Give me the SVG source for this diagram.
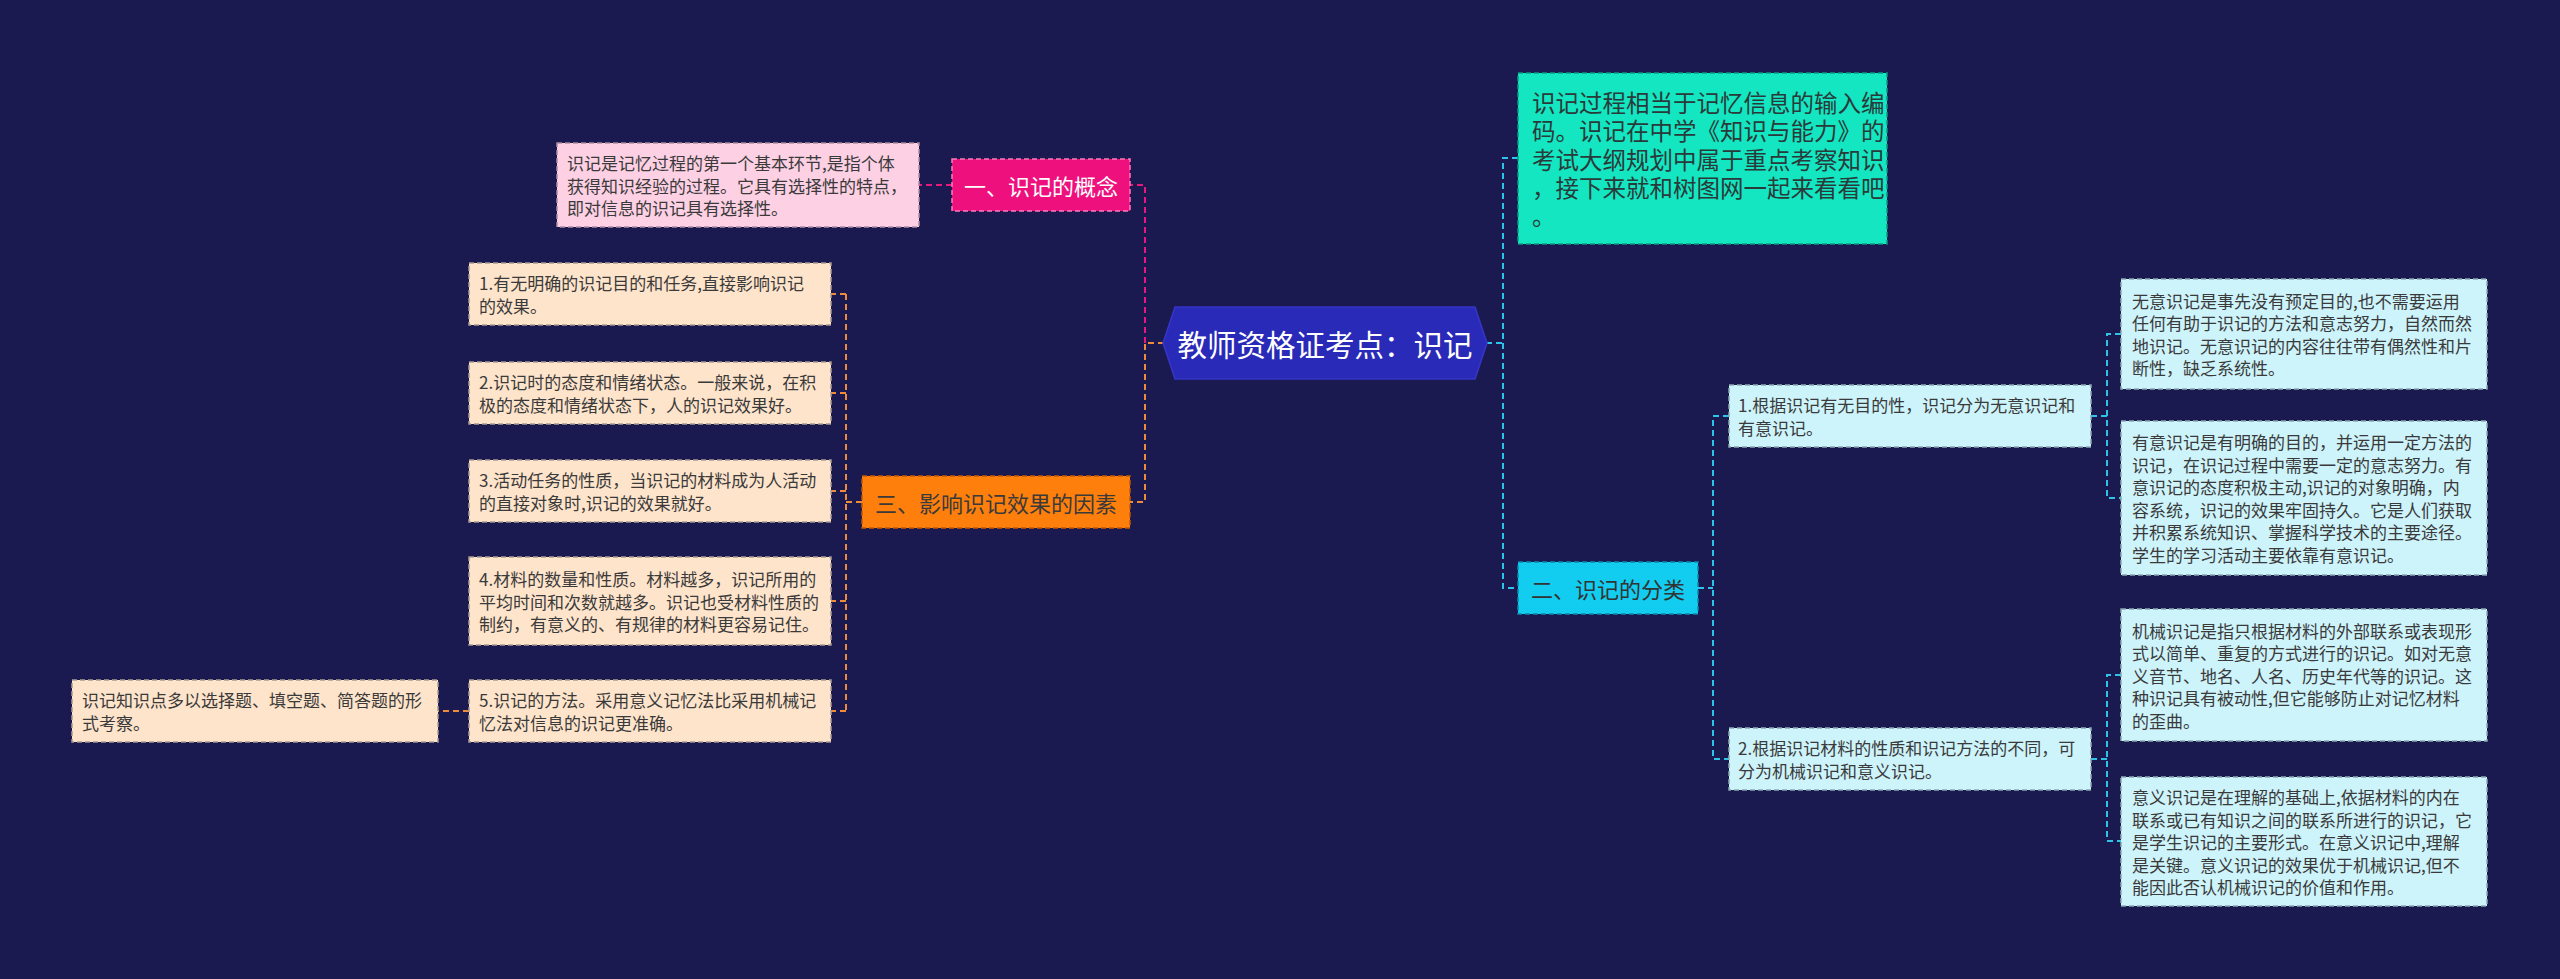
<svg xmlns="http://www.w3.org/2000/svg" width="2560" height="979" viewBox="0 0 2560 979">
<style>
text{font-family:"Noto Sans CJK SC","Noto Sans",sans-serif;dominant-baseline:central}
.leaf{font-size:17px;fill:#3a3a3a}
.main{font-size:22px;text-anchor:middle}
.con path{fill:none;stroke-width:2;stroke-dasharray:6 4}
.m{stroke:#e8197e}.o{stroke:#ee8a3c}.c{stroke:#2ec4ea}
.bd{stroke-width:1.5;stroke-dasharray:5 3}
</style>
<rect width="2560" height="979" fill="#1b1a50"/>
<g class="con">
<path class="m" d="M1145,343 V185 H1130"/>
<path class="m" d="M952,185 H919"/>
<path class="o" d="M1164,343 H1145 V502 H1130"/>
<path class="o" d="M862,502 H846"/>
<path class="o" d="M846,294 V711"/>
<path class="o" d="M846,294 H831 M846,393 H831 M846,491 H831 M846,601 H831 M846,711 H831"/>
<path class="o" d="M469,711 H438"/>
<path class="c" d="M1486,343 H1503"/>
<path class="c" d="M1518,158 H1503 V588 H1518"/>
<path class="c" d="M1698,588 H1713"/>
<path class="c" d="M1729,416 H1713 V759 H1729"/>
<path class="c" d="M2091,416 H2107"/>
<path class="c" d="M2121,334 H2107 V498 H2121"/>
<path class="c" d="M2091,759 H2107"/>
<path class="c" d="M2121,675 H2107 V841 H2121"/>
</g>
<g id="root">
<polygon points="1163,343 1175,307 1475,307 1487,343 1475,379 1175,379" fill="#2a2ab8" stroke="#3535c8" stroke-width="1.5"/>
<text x="1325" y="343" text-anchor="middle" font-size="29.5" fill="#ffffff">教师资格证考点：识记</text>
</g>
<g id="n1">
<rect x="952" y="159" width="178" height="52" fill="#ee117d" stroke="#ff7ab8" class="bd"/>
<text class="main" x="1041" y="185" fill="#ffffff">一、识记的概念</text>
</g>
<g id="n1a">
<rect x="557" y="143" width="362" height="84" fill="#fdd0e4" stroke="#b08aa0" class="bd"/>
<text class="leaf" x="567" y="162.5">识记是记忆过程的第一个基本环节,是指个体</text>
<text class="leaf" x="567" y="185">获得知识经验的过程。它具有选择性的特点，</text>
<text class="leaf" x="567" y="207.5">即对信息的识记具有选择性。</text>
</g>
<g id="n3">
<rect x="862" y="476" width="268" height="52" fill="#fe7f0c" stroke="#c05a00" class="bd"/>
<text class="main" x="996" y="502" fill="#3a3a3a">三、影响识记效果的因素</text>
</g>
<g id="n3a">
<rect x="469" y="263" width="362" height="62" fill="#fee4cb" stroke="#a89a90" class="bd"/>
<text class="leaf" x="479" y="282.75">1.有无明确的识记目的和任务,直接影响识记</text>
<text class="leaf" x="479" y="305.25">的效果。</text>
</g>
<g id="n3b">
<rect x="469" y="362" width="362" height="62" fill="#fee4cb" stroke="#a89a90" class="bd"/>
<text class="leaf" x="479" y="381.75">2.识记时的态度和情绪状态。一般来说，在积</text>
<text class="leaf" x="479" y="404.25">极的态度和情绪状态下，人的识记效果好。</text>
</g>
<g id="n3c">
<rect x="469" y="460" width="362" height="62" fill="#fee4cb" stroke="#a89a90" class="bd"/>
<text class="leaf" x="479" y="479.75">3.活动任务的性质，当识记的材料成为人活动</text>
<text class="leaf" x="479" y="502.25">的直接对象时,识记的效果就好。</text>
</g>
<g id="n3d">
<rect x="469" y="557" width="362" height="88" fill="#fee4cb" stroke="#a89a90" class="bd"/>
<text class="leaf" x="479" y="578.5">4.材料的数量和性质。材料越多，识记所用的</text>
<text class="leaf" x="479" y="601">平均时间和次数就越多。识记也受材料性质的</text>
<text class="leaf" x="479" y="623.5">制约，有意义的、有规律的材料更容易记住。</text>
</g>
<g id="n3e">
<rect x="469" y="680" width="362" height="62" fill="#fee4cb" stroke="#a89a90" class="bd"/>
<text class="leaf" x="479" y="699.75">5.识记的方法。采用意义记忆法比采用机械记</text>
<text class="leaf" x="479" y="722.25">忆法对信息的识记更准确。</text>
</g>
<g id="n3e1">
<rect x="72" y="680" width="366" height="62" fill="#fee4cb" stroke="#a89a90" class="bd"/>
<text class="leaf" x="82" y="699.75">识记知识点多以选择题、填空题、简答题的形</text>
<text class="leaf" x="82" y="722.25">式考察。</text>
</g>
<g id="intro">
<rect x="1518" y="73" width="369" height="171" fill="#13e6c0" stroke="#0a9a80" class="bd"/>
<text font-size="23.5" fill="#2a3a3a"><tspan x="1532" y="102">识记过程相当于记忆信息的输入编</tspan><tspan x="1532" y="130.3">码。识记在中学《知识与能力》的</tspan><tspan x="1532" y="158.6">考试大纲规划中属于重点考察知识</tspan><tspan x="1532" y="186.9">，接下来就和树图网一起来看看吧</tspan><tspan x="1532" y="215.2">。</tspan></text>
</g>
<g id="n2">
<rect x="1518" y="562" width="180" height="52" fill="#12cdf0" stroke="#0a8aa8" class="bd"/>
<text class="main" x="1608" y="588" fill="#333333">二、识记的分类</text>
</g>
<g id="n2a">
<rect x="1729" y="385" width="362" height="62" fill="#cdf3fb" stroke="#8aa8b0" class="bd"/>
<text class="leaf" x="1738" y="404.75">1.根据识记有无目的性，识记分为无意识记和</text>
<text class="leaf" x="1738" y="427.25">有意识记。</text>
</g>
<g id="n2a1">
<rect x="2121" y="279" width="366" height="110" fill="#cdf3fb" stroke="#8aa8b0" class="bd"/>
<text class="leaf" x="2132" y="300.25">无意识记是事先没有预定目的,也不需要运用</text>
<text class="leaf" x="2132" y="322.75">任何有助于识记的方法和意志努力，自然而然</text>
<text class="leaf" x="2132" y="345.25">地识记。无意识记的内容往往带有偶然性和片</text>
<text class="leaf" x="2132" y="367.75">断性，缺乏系统性。</text>
</g>
<g id="n2a2">
<rect x="2121" y="421" width="366" height="154" fill="#cdf3fb" stroke="#8aa8b0" class="bd"/>
<text class="leaf" x="2132" y="441.75">有意识记是有明确的目的，并运用一定方法的</text>
<text class="leaf" x="2132" y="464.25">识记，在识记过程中需要一定的意志努力。有</text>
<text class="leaf" x="2132" y="486.75">意识记的态度积极主动,识记的对象明确，内</text>
<text class="leaf" x="2132" y="509.25">容系统，识记的效果牢固持久。它是人们获取</text>
<text class="leaf" x="2132" y="531.75">并积累系统知识、掌握科学技术的主要途径。</text>
<text class="leaf" x="2132" y="554.25">学生的学习活动主要依靠有意识记。</text>
</g>
<g id="n2b">
<rect x="1729" y="728" width="362" height="62" fill="#cdf3fb" stroke="#8aa8b0" class="bd"/>
<text class="leaf" x="1738" y="747.75">2.根据识记材料的性质和识记方法的不同，可</text>
<text class="leaf" x="1738" y="770.25">分为机械识记和意义识记。</text>
</g>
<g id="n2b1">
<rect x="2121" y="609" width="366" height="132" fill="#cdf3fb" stroke="#8aa8b0" class="bd"/>
<text class="leaf" x="2132" y="630">机械识记是指只根据材料的外部联系或表现形</text>
<text class="leaf" x="2132" y="652.5">式以简单、重复的方式进行的识记。如对无意</text>
<text class="leaf" x="2132" y="675">义音节、地名、人名、历史年代等的识记。这</text>
<text class="leaf" x="2132" y="697.5">种识记具有被动性,但它能够防止对记忆材料</text>
<text class="leaf" x="2132" y="720">的歪曲。</text>
</g>
<g id="n2b2">
<rect x="2121" y="777" width="366" height="129" fill="#cdf3fb" stroke="#8aa8b0" class="bd"/>
<text class="leaf" x="2132" y="796.5">意义识记是在理解的基础上,依据材料的内在</text>
<text class="leaf" x="2132" y="819">联系或已有知识之间的联系所进行的识记，它</text>
<text class="leaf" x="2132" y="841.5">是学生识记的主要形式。在意义识记中,理解</text>
<text class="leaf" x="2132" y="864">是关键。意义识记的效果优于机械识记,但不</text>
<text class="leaf" x="2132" y="886.5">能因此否认机械识记的价值和作用。</text>
</g>
</svg>
